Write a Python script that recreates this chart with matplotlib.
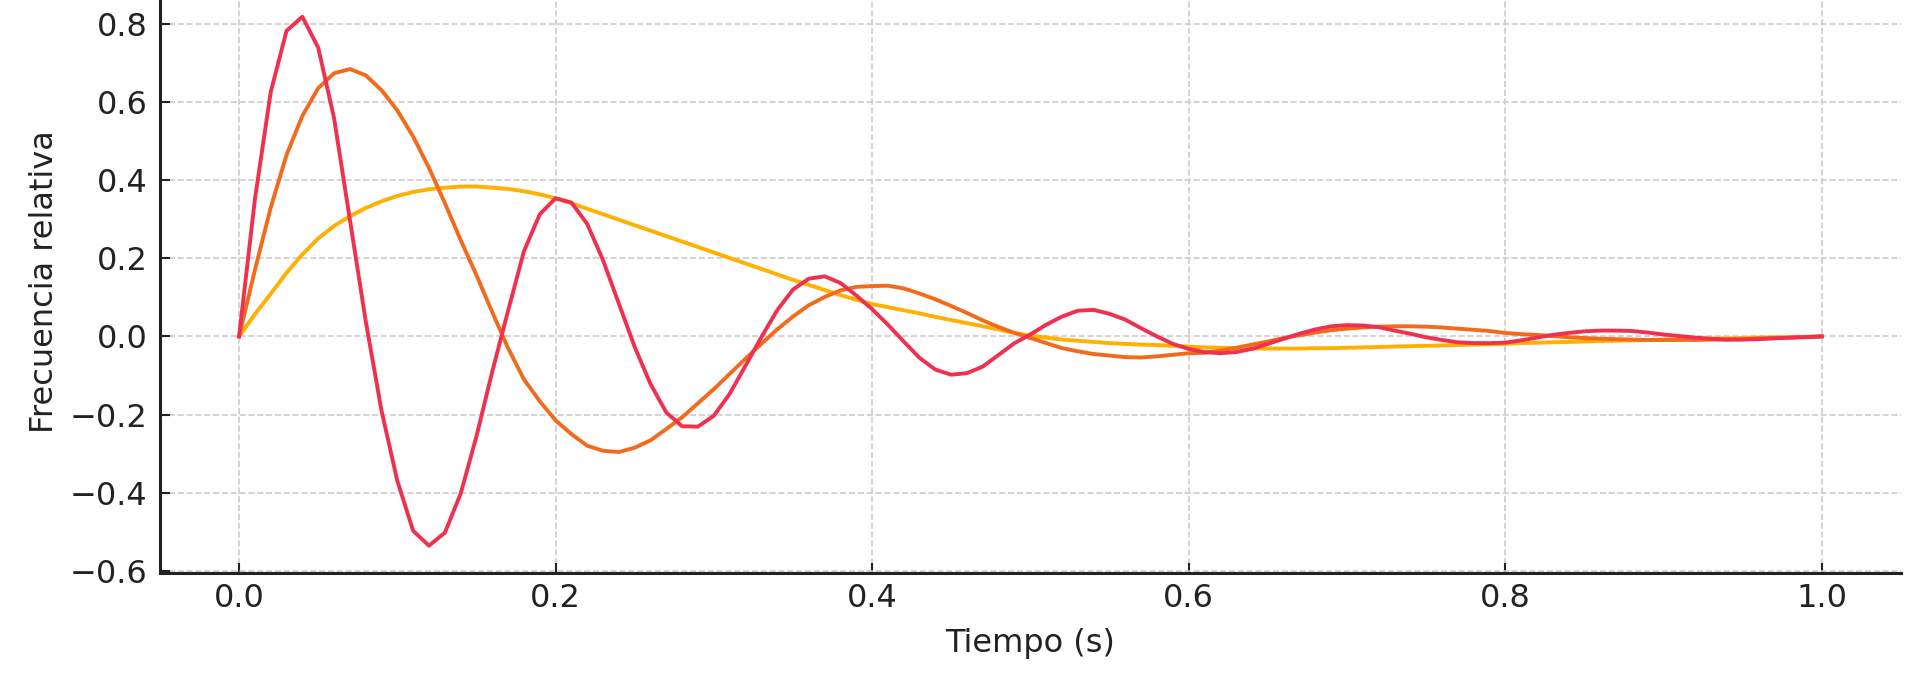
import matplotlib.pyplot as plt
import numpy as np

# tiempo (s), muestreado cada 0.01
t = np.round(np.arange(0, 101) * 0.01, 2)

# curva amarilla (amortiguamiento fuerte)
y_amarilla = [
    0.0, 0.057, 0.109, 0.163, 0.21, 0.251, 0.283, 0.308, 0.329, 0.346,
    0.36, 0.37, 0.377, 0.381, 0.384, 0.384, 0.381, 0.378, 0.372, 0.364,
    0.354, 0.341, 0.327, 0.313, 0.299, 0.285, 0.271, 0.257, 0.243, 0.229,
    0.215, 0.201, 0.187, 0.173, 0.159, 0.145, 0.132, 0.119, 0.106, 0.094,
    0.083, 0.075, 0.067, 0.059, 0.05, 0.042, 0.034, 0.026, 0.018, 0.009,
    0.002, -0.003, -0.008, -0.011, -0.014, -0.017, -0.019, -0.021, -0.022, -0.024,
    -0.026, -0.028, -0.029, -0.03, -0.031, -0.031, -0.031, -0.031, -0.03, -0.03,
    -0.029, -0.028, -0.027, -0.026, -0.025, -0.024, -0.023, -0.022, -0.021, -0.02,
    -0.019, -0.017, -0.016, -0.015, -0.014, -0.013, -0.012, -0.011, -0.01, -0.009,
    -0.008, -0.007, -0.006, -0.005, -0.005, -0.004, -0.003, -0.002, -0.002, -0.001,
    0.0,
]

# curva naranja
y_naranja = [
    0.0, 0.17, 0.33, 0.465, 0.565, 0.636, 0.674, 0.685, 0.669, 0.631,
    0.579, 0.512, 0.432, 0.342, 0.247, 0.157, 0.062, -0.03, -0.11, -0.166,
    -0.215, -0.25, -0.28, -0.293, -0.296, -0.285, -0.266, -0.237, -0.207, -0.171,
    -0.135, -0.096, -0.057, -0.019, 0.018, 0.051, 0.08, 0.101, 0.118, 0.127,
    0.129, 0.13, 0.123, 0.11, 0.095, 0.078, 0.06, 0.041, 0.024, 0.009,
    -0.004, -0.017, -0.03, -0.038, -0.045, -0.049, -0.053, -0.054, -0.051, -0.047,
    -0.043, -0.042, -0.036, -0.029, -0.021, -0.013, -0.004, 0.003, 0.01, 0.016,
    0.02, 0.023, 0.025, 0.026, 0.026, 0.025, 0.023, 0.02, 0.017, 0.014,
    0.009, 0.006, 0.004, 0.001, -0.002, -0.004, -0.006, -0.007, -0.008, -0.009,
    -0.009, -0.009, -0.009, -0.008, -0.008, -0.007, -0.005, -0.004, -0.003, -0.001,
    0.0,
]

# curva roja (oscilación rápida)
y_roja = [
    0.0, 0.351, 0.626, 0.783, 0.819, 0.74, 0.56, 0.30, 0.04, -0.19,
    -0.37, -0.498, -0.536, -0.503, -0.403, -0.256, -0.09, 0.066, 0.218, 0.313,
    0.354, 0.343, 0.288, 0.195, 0.084, -0.027, -0.122, -0.195, -0.23, -0.231,
    -0.203, -0.147, -0.075, -0.002, 0.067, 0.12, 0.148, 0.154, 0.137, 0.105,
    0.07, 0.03, -0.013, -0.055, -0.085, -0.098, -0.094, -0.077, -0.047, -0.017,
    0.005, 0.03, 0.051, 0.066, 0.068, 0.058, 0.043, 0.021, 0.0, -0.019,
    -0.032, -0.04, -0.043, -0.04, -0.032, -0.019, -0.006, 0.007, 0.018, 0.026,
    0.029, 0.028, 0.024, 0.015, 0.007, -0.002, -0.009, -0.015, -0.017, -0.017,
    -0.016, -0.01, -0.003, 0.004, 0.009, 0.013, 0.015, 0.015, 0.014, 0.01,
    0.005, 0.001, -0.003, -0.006, -0.008, -0.008, -0.007, -0.005, -0.003, -0.002,
    0.0,
]

fig = plt.figure(figsize=(19.2, 6.86), dpi=100)
# the top of the axes sits just above the picture edge, as in the original crop
ax = fig.add_axes([0.0833, 0.1647, 0.9067, 0.8496])

ax.plot(t, y_amarilla, color='#FFB000', lw=2.8)
ax.plot(t, y_naranja, color='#F26B1D', lw=2.8)
ax.plot(t, y_roja, color='#F0304F', lw=2.8)

ax.set_xlim(-0.05, 1.05)
ax.set_ylim(-0.606, 0.887)
ax.set_xticks([0.0, 0.2, 0.4, 0.6, 0.8, 1.0])
ax.set_yticks([-0.6, -0.4, -0.2, 0.0, 0.2, 0.4, 0.6, 0.8])

ax.set_xlabel('Tiempo (s)', fontsize=23, color='#222222', labelpad=10)
ax.set_ylabel('Frecuencia relativa', fontsize=23, color='#222222', labelpad=7)

ax.grid(True, linestyle='--', color='#cccccc', linewidth=1.2)
ax.set_axisbelow(True)
ax.tick_params(direction='in', length=7, width=1.5, labelsize=23,
               labelcolor='#222222', color='#222222')
ax.tick_params(axis='x', pad=7)
ax.tick_params(axis='y', pad=9)
for side in ['top', 'right']:
    ax.spines[side].set_visible(False)
for side in ['left', 'bottom']:
    ax.spines[side].set_linewidth(2.2)
    ax.spines[side].set_color('#222222')

fig.savefig('out.png', dpi=100)
